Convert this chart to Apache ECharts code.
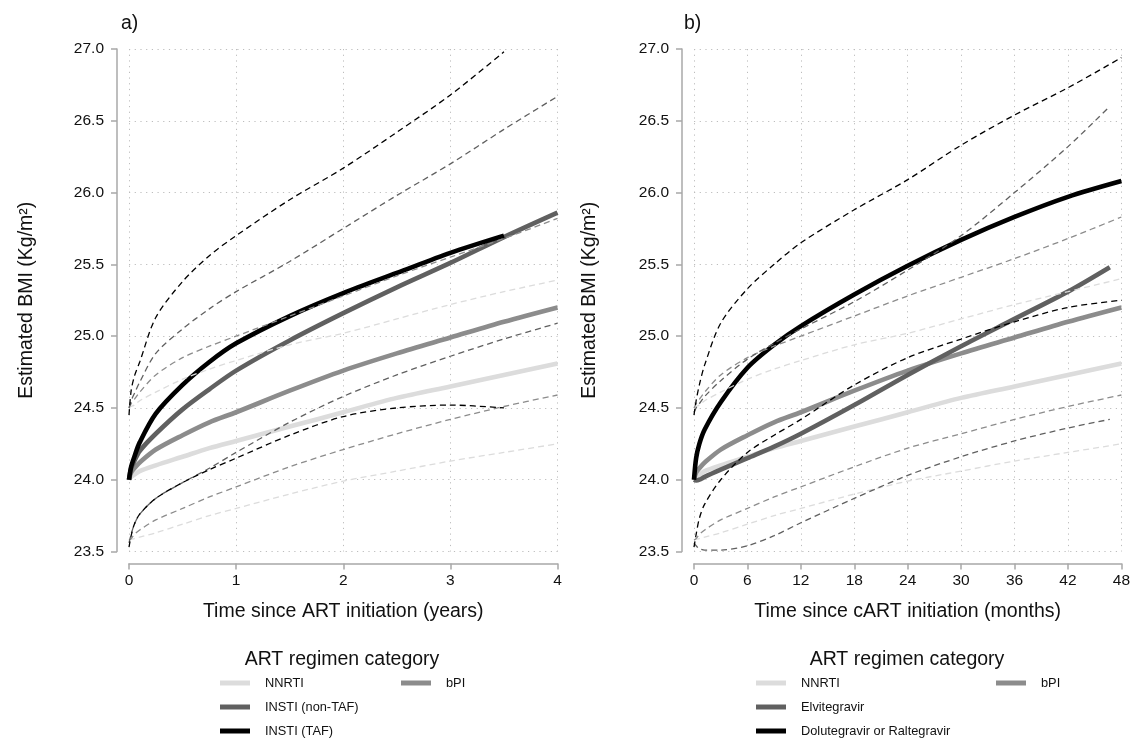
<!DOCTYPE html>
<html>
<head>
<meta charset="utf-8">
<script src="https://cdn.jsdelivr.net/npm/echarts@6/dist/echarts.min.js"></script>
<style>
html,body{margin:0;padding:0;background:#fff;}
#chart{width:1133px;height:738px;}
</style>
</head>
<body>
<div id="chart"></div>
<script>
// ---------- Panel a: time in years ----------
const yearsA = [0, 0.02, 0.05, 0.1, 0.25, 0.5, 0.75, 1, 1.5, 2, 2.5, 3, 3.5, 4];
const nnrtiA      = [24.00, 24.02, 24.035, 24.06, 24.10, 24.16, 24.22, 24.27, 24.37, 24.47, 24.57, 24.65, 24.73, 24.81];
const nnrtiA_hi   = [24.50, 24.51, 24.52, 24.55, 24.61, 24.70, 24.77, 24.83, 24.94, 25.02, 25.12, 25.22, 25.31, 25.39];
const nnrtiA_lo   = [23.58, 23.585, 23.59, 23.60, 23.63, 23.69, 23.75, 23.80, 23.90, 23.99, 24.06, 24.13, 24.19, 24.25];
const bpiA        = [24.00, 24.05, 24.08, 24.12, 24.21, 24.31, 24.40, 24.47, 24.62, 24.76, 24.88, 24.99, 25.10, 25.20];
const bpiA_hi     = [24.50, 24.53, 24.56, 24.61, 24.73, 24.85, 24.93, 25.00, 25.14, 25.28, 25.42, 25.55, 25.68, 25.82];
const bpiA_lo     = [23.58, 23.59, 23.62, 23.65, 23.72, 23.80, 23.88, 23.95, 24.09, 24.21, 24.32, 24.42, 24.51, 24.59];
const nonTafA     = [24.00, 24.08, 24.13, 24.20, 24.32, 24.49, 24.63, 24.76, 24.97, 25.16, 25.34, 25.51, 25.69, 25.86];
const nonTafA_hi  = [24.50, 24.55, 24.60, 24.68, 24.88, 25.05, 25.19, 25.31, 25.52, 25.75, 25.98, 26.20, 26.44, 26.67];
const nonTafA_lo  = [23.56, 23.62, 23.69, 23.76, 23.87, 23.98, 24.08, 24.19, 24.40, 24.58, 24.73, 24.86, 24.98, 25.09];
const yearsTaf = [0, 0.02, 0.05, 0.1, 0.25, 0.5, 0.75, 1, 1.5, 2, 2.5, 3, 3.5];
const tafA        = [24.00, 24.09, 24.16, 24.26, 24.46, 24.66, 24.82, 24.95, 25.14, 25.30, 25.44, 25.58, 25.70];
const tafA_hi     = [24.45, 24.62, 24.72, 24.82, 25.13, 25.38, 25.56, 25.70, 25.95, 26.17, 26.42, 26.68, 26.98];
const tafA_lo     = [23.53, 23.61, 23.69, 23.76, 23.87, 23.98, 24.07, 24.15, 24.31, 24.44, 24.50, 24.52, 24.50];

// ---------- Panel b: time in months ----------
const monthsB = [0, 0.24, 0.6, 1.2, 3, 6, 9, 12, 18, 24, 30, 36, 42, 48];
const nnrtiB      = [24.00, 24.02, 24.035, 24.06, 24.10, 24.16, 24.22, 24.27, 24.37, 24.47, 24.57, 24.65, 24.73, 24.81];
const nnrtiB_hi   = [24.50, 24.51, 24.52, 24.55, 24.61, 24.70, 24.77, 24.83, 24.94, 25.02, 25.12, 25.22, 25.31, 25.40];
const nnrtiB_lo   = [23.58, 23.585, 23.59, 23.60, 23.63, 23.69, 23.75, 23.80, 23.90, 23.99, 24.06, 24.13, 24.19, 24.25];
const bpiB        = [24.00, 24.05, 24.08, 24.12, 24.21, 24.31, 24.40, 24.47, 24.62, 24.76, 24.88, 24.99, 25.10, 25.20];
const bpiB_hi     = [24.50, 24.53, 24.56, 24.61, 24.73, 24.85, 24.93, 25.00, 25.14, 25.28, 25.41, 25.54, 25.68, 25.83];
const bpiB_lo     = [23.58, 23.59, 23.62, 23.65, 23.72, 23.80, 23.88, 23.95, 24.09, 24.22, 24.32, 24.42, 24.51, 24.59];
const monthsElv = [0, 0.24, 0.6, 1.2, 3, 6, 9, 12, 18, 24, 30, 36, 42, 46.7];
const elvB        = [24.00, 23.995, 24.00, 24.02, 24.07, 24.15, 24.23, 24.32, 24.52, 24.73, 24.93, 25.12, 25.31, 25.48];
const elvB_hi     = [24.47, 24.50, 24.53, 24.58, 24.69, 24.84, 24.95, 25.05, 25.24, 25.46, 25.70, 26.00, 26.32, 26.60];
const elvB_lo     = [23.56, 23.54, 23.52, 23.51, 23.51, 23.54, 23.61, 23.70, 23.87, 24.03, 24.16, 24.27, 24.36, 24.42];
const doluB       = [24.00, 24.15, 24.25, 24.35, 24.54, 24.78, 24.94, 25.07, 25.29, 25.49, 25.67, 25.83, 25.97, 26.08];
const doluB_hi    = [24.45, 24.55, 24.66, 24.80, 25.09, 25.33, 25.50, 25.65, 25.88, 26.09, 26.33, 26.54, 26.73, 26.94];
const doluB_lo    = [23.53, 23.62, 23.73, 23.83, 24.00, 24.19, 24.31, 24.42, 24.66, 24.85, 24.98, 25.10, 25.20, 25.25];

const yTicks = [23.5, 24.0, 24.5, 25.0, 25.5, 26.0, 26.5, 27.0];
const legendA = ['NNRTI', 'INSTI (non-TAF)', 'INSTI (TAF)'];
const legendB = ['NNRTI', 'Elvitegravir', 'Dolutegravir or Raltegravir'];

const C_NNRTI = '#dcdcdc', C_BPI = '#8c8c8c', C_INSTI = '#606060', C_BLACK = '#000000';
const FONT = 'Liberation Sans, Arial, Helvetica, sans-serif';

function pairs(xs, ys) { return ys.map((y, i) => [xs[i], y]); }
function solid(name, xs, ys, color, idx) {
  return { name, type: 'line', xAxisIndex: idx, yAxisIndex: idx, data: pairs(xs, ys),
    showSymbol: false, symbol: 'none', smooth: 0.3,
    itemStyle: { color }, lineStyle: { color, width: 4.6, cap: 'butt' }, silent: true, z: 2 };
}
function dashed(name, xs, ys, color, idx) {
  return { name, type: 'line', xAxisIndex: idx, yAxisIndex: idx, data: pairs(xs, ys),
    showSymbol: false, symbol: 'none', smooth: 0.3,
    itemStyle: { color }, lineStyle: { color, width: 1.3, type: [6, 4] }, silent: true, z: 3 };
}

const series = [
  solid('NNRTI', yearsA, nnrtiA, C_NNRTI, 0),
  solid('bPI', yearsA, bpiA, C_BPI, 0),
  solid('INSTI (non-TAF)', yearsA, nonTafA, C_INSTI, 0),
  solid('INSTI (TAF)', yearsTaf, tafA, C_BLACK, 0),
  solid('NNRTI', monthsB, nnrtiB, C_NNRTI, 1),
  solid('bPI', monthsB, bpiB, C_BPI, 1),
  solid('Elvitegravir', monthsElv, elvB, C_INSTI, 1),
  solid('Dolutegravir or Raltegravir', monthsB, doluB, C_BLACK, 1),
  dashed('NNRTI upper a', yearsA, nnrtiA_hi, C_NNRTI, 0),
  dashed('NNRTI lower a', yearsA, nnrtiA_lo, C_NNRTI, 0),
  dashed('bPI upper a', yearsA, bpiA_hi, C_BPI, 0),
  dashed('bPI lower a', yearsA, bpiA_lo, C_BPI, 0),
  dashed('non-TAF upper a', yearsA, nonTafA_hi, C_INSTI, 0),
  dashed('non-TAF lower a', yearsA, nonTafA_lo, C_INSTI, 0),
  dashed('TAF upper a', yearsTaf, tafA_hi, C_BLACK, 0),
  dashed('TAF lower a', yearsTaf, tafA_lo, C_BLACK, 0),
  dashed('NNRTI upper b', monthsB, nnrtiB_hi, C_NNRTI, 1),
  dashed('NNRTI lower b', monthsB, nnrtiB_lo, C_NNRTI, 1),
  dashed('bPI upper b', monthsB, bpiB_hi, C_BPI, 1),
  dashed('bPI lower b', monthsB, bpiB_lo, C_BPI, 1),
  dashed('Elv upper b', monthsElv, elvB_hi, C_INSTI, 1),
  dashed('Elv lower b', monthsElv, elvB_lo, C_INSTI, 1),
  dashed('Dolu upper b', monthsB, doluB_hi, C_BLACK, 1),
  dashed('Dolu lower b', monthsB, doluB_lo, C_BLACK, 1)
];

const axisCol = '#a8a8a8';
function xAx(idx, max, interval, name) {
  return { type: 'value', gridIndex: idx, min: 0, max, interval, offset: 12,
    axisLine: { show: true, onZero: false, lineStyle: { color: axisCol, width: 1.5 } },
    axisTick: { show: true, length: 6, lineStyle: { color: axisCol, width: 1.5 } },
    axisLabel: { fontSize: 15.5, color: '#111', margin: 9, fontFamily: FONT },
    splitLine: { show: true, lineStyle: { type: [1.2, 4.5], color: '#bdbdbd', width: 1 } },
    name, nameLocation: 'middle', nameGap: 38,
    nameTextStyle: { fontSize: 19.5, color: '#111', fontFamily: FONT } };
}
function yAx(idx, gap) {
  return { type: 'value', gridIndex: idx, min: yTicks[0], max: yTicks[yTicks.length - 1], interval: 0.5, offset: 12,
    axisLine: { show: true, onZero: false, lineStyle: { color: axisCol, width: 1.5 } },
    axisTick: { show: true, length: 6, lineStyle: { color: axisCol, width: 1.5 } },
    axisLabel: { fontSize: 15.5, color: '#111', margin: 13, fontFamily: FONT, formatter: v => v.toFixed(1) },
    splitLine: { show: true, lineStyle: { type: [1.2, 4.5], color: '#bdbdbd', width: 1 } },
    name: 'Estimated BMI (Kg/m²)', nameLocation: 'middle', nameGap: gap, nameRotate: 90,
    nameTextStyle: { fontSize: 19.5, color: '#111', fontFamily: FONT } };
}

function legend(data, left) {
  return { data, left, top: 676, orient: 'vertical', icon: 'rect', itemWidth: 30, itemHeight: 5,
    itemGap: 10, padding: 0, selectedMode: false, itemStyle: { borderWidth: 0 },
    textStyle: { fontSize: 12.8, color: '#111', fontFamily: FONT, lineHeight: 14, padding: [0, 0, 0, 10] } };
}

function label(text, x, y, size, align) {
  return { type: 'text', x, y, style: { text, fontSize: size, fontFamily: FONT, fill: '#111',
    textAlign: align, textVerticalAlign: 'middle' } };
}

const option = {
  animation: false,
  backgroundColor: '#ffffff',
  grid: [
    { left: 129, top: 49, width: 428.5, height: 502.5 },
    { left: 694, top: 49, width: 428, height: 502.5 }
  ],
  xAxis: [
    xAx(0, 4, 1, 'Time since ART initiation (years)'),
    xAx(1, 48, 6, 'Time since cART initiation (months)')
  ],
  yAxis: [yAx(0, 80), yAx(1, 82)],
  legend: [legend(legendA, 220), legend(['bPI'], 401), legend(legendB, 756), legend(['bPI'], 996)],
  graphic: [
    label('a)', 121, 24, 19.5, 'left'),
    label('b)', 684, 24, 19.5, 'left'),
    label('ART regimen category', 342, 660, 19.5, 'center'),
    label('ART regimen category', 907, 660, 19.5, 'center')
  ],
  series
};

const chart = echarts.init(document.getElementById('chart'), null, { renderer: 'canvas' });
chart.setOption(option);
</script>
</body>
</html>
